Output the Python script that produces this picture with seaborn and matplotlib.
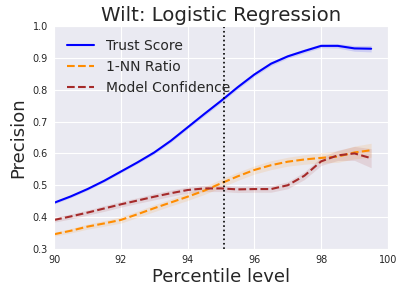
import numpy as np
import pandas as pd
import seaborn as sns
import matplotlib
matplotlib.use('Agg')
import matplotlib.pyplot as plt

# percentile levels
percentiles = [90, 90.5, 91, 91.5, 92, 92.5, 93, 93.5, 94, 94.5,
               95, 95.5, 96, 96.5, 97, 97.5, 98, 98.5, 99, 99.5]

trust_score = [0.445, 0.465, 0.488, 0.514, 0.543, 0.572, 0.603, 0.640, 0.682, 0.724,
               0.765, 0.808, 0.848, 0.882, 0.905, 0.922, 0.938, 0.938, 0.930, 0.929]
trust_err = [0.004, 0.004, 0.004, 0.004, 0.004, 0.004, 0.005, 0.005, 0.005, 0.006,
             0.006, 0.006, 0.006, 0.006, 0.006, 0.006, 0.006, 0.007, 0.009, 0.010]

nn_ratio = [0.346, 0.357, 0.370, 0.380, 0.391, 0.409, 0.428, 0.446, 0.464, 0.483,
            0.506, 0.528, 0.548, 0.563, 0.574, 0.581, 0.586, 0.590, 0.603, 0.610]
nn_err = [0.006, 0.007, 0.008, 0.009, 0.010, 0.010, 0.011, 0.011, 0.012, 0.012,
          0.013, 0.013, 0.013, 0.014, 0.014, 0.015, 0.016, 0.018, 0.020, 0.022]

model_conf = [0.391, 0.402, 0.414, 0.427, 0.440, 0.452, 0.464, 0.475, 0.485, 0.490,
              0.490, 0.487, 0.488, 0.488, 0.500, 0.530, 0.575, 0.594, 0.600, 0.585]
conf_err = [0.007, 0.008, 0.008, 0.009, 0.009, 0.009, 0.010, 0.010, 0.010, 0.010,
            0.010, 0.010, 0.010, 0.010, 0.011, 0.012, 0.013, 0.016, 0.022, 0.030]

cutoff = 95.1

sns.set_style('darkgrid')
fig = plt.figure(figsize=(4.04, 2.97), dpi=100)
ax = fig.add_axes([0.134, 0.162, 0.826, 0.750])

series = [('Trust Score', trust_score, trust_err, 'blue', '-'),
          ('1-NN Ratio', nn_ratio, nn_err, 'darkorange', '--'),
          ('Model Confidence', model_conf, conf_err, 'brown', '--')]

for name, vals, err, color, ls in series:
    df = pd.DataFrame({'Percentile level': percentiles, 'Precision': vals})
    sns.lineplot(data=df, x='Percentile level', y='Precision', color=color,
                 linestyle=ls, linewidth=1.5, label=name, ax=ax)
    # confidence band around each curve
    lo = np.array(vals) - np.array(err)
    hi = np.array(vals) + np.array(err)
    ax.fill_between(percentiles, lo, hi, color=color, alpha=0.12, linewidth=0)

ax.axvline(cutoff, color='black', linestyle=':', linewidth=1.2)

ax.set_xlim(90, 100)
ax.set_ylim(0.3, 1.0)
ax.set_xticks(range(90, 101, 2))
ax.set_yticks(np.arange(0.3, 1.01, 0.1))
ax.tick_params(labelsize=7, pad=1)
ax.set_xlabel('Percentile level', fontsize=13, labelpad=2)
ax.set_ylabel('Precision', fontsize=13, labelpad=4)
ax.set_title('Wilt: Logistic Regression', fontsize=14.2, pad=4)
ax.legend(loc='upper left', frameon=False, fontsize=10, handlelength=2)

fig.savefig('out.png', dpi=100)
